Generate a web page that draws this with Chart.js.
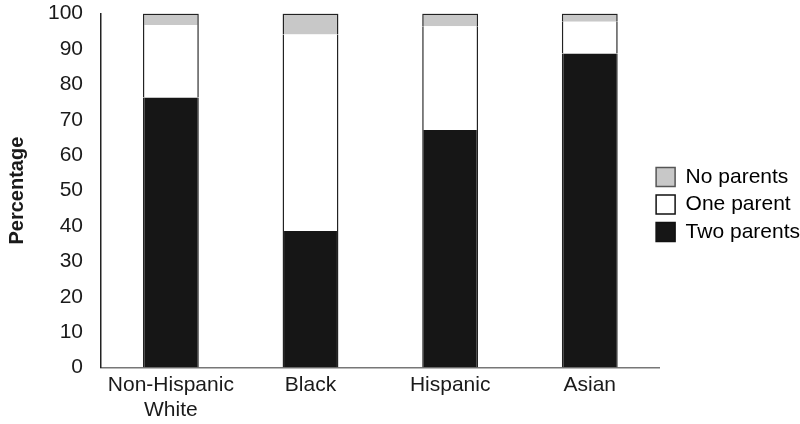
<!DOCTYPE html>
<html>
<head>
<meta charset="utf-8">
<script src="https://cdn.jsdelivr.net/npm/chart.js@4"></script>
<style>
  html, body { margin: 0; padding: 0; background: #fff; }
  #wrap { width: 800px; height: 424px; }
</style>
</head>
<body>
<div id="wrap"><canvas id="chart"></canvas></div>
<script>
const CATEGORIES = [["Non-Hispanic", "White"], "Black", "Hispanic", "Asian"];
const TWO_PARENTS = [76.3, 38.6, 67.1, 88.7];
const ONE_PARENT = [20.5, 55.5, 29.3, 9.0];
const NO_PARENTS = [3.2, 5.9, 3.6, 2.3];

const EDGE = "#222";
const FONT = "'Liberation Sans', Arial, sans-serif";

Chart.defaults.font.family = FONT;
Chart.defaults.color = "#1a1a1a";

// nudge the legend a little left/up so it sits as in the original figure
const legendNudge = {
  id: "legendNudge",
  afterLayout(chart) {
    const lg = chart.legend;
    if (!lg) return;
    lg.left -= 10;
    lg.right -= 10;
    lg.top -= 7;
    lg.bottom -= 7;
  },
};

new Chart(document.getElementById("chart"), {
  type: "bar",
  data: {
    labels: CATEGORIES,
    datasets: [
      {
        label: "Two parents",
        data: TWO_PARENTS,
        backgroundColor: "#161616",
        borderColor: EDGE,
        borderWidth: { left: 1.5, right: 1.5, bottom: 0, top: 0 },
        borderSkipped: false,
      },
      {
        label: "One parent",
        data: ONE_PARENT,
        backgroundColor: "#ffffff",
        borderColor: EDGE,
        borderWidth: { left: 1.5, right: 1.5, bottom: 0, top: 0 },
        borderSkipped: false,
      },
      {
        label: "No parents",
        data: NO_PARENTS,
        backgroundColor: "#c8c8c8",
        borderColor: EDGE,
        borderWidth: { left: 1.5, right: 1.5, bottom: 0, top: 1.5 },
        borderSkipped: false,
      },
    ],
  },
  plugins: [legendNudge],
  options: {
    responsive: true,
    maintainAspectRatio: false,
    animation: false,
    layout: { padding: { top: 0, right: -20, left: 2, bottom: 1 } },
    datasets: { bar: { categoryPercentage: 1, barPercentage: 0.4 } },
    plugins: {
      tooltip: { enabled: false },
      legend: {
        position: "right",
        reverse: true,
        labels: {
          font: { size: 21 },
          color: "#1a1a1a",
          boxWidth: 19,
          boxHeight: 19,
          padding: 6.5,
          generateLabels(chart) {
            return chart.data.datasets.map((ds, i) => ({
              text: ds.label,
              fillStyle: ds.backgroundColor,
              strokeStyle: i === 2 ? "#555" : "#111",
              lineWidth: 1.5,
              datasetIndex: i,
              hidden: false,
            }));
          },
        },
      },
    },
    scales: {
      x: {
        stacked: true,
        grid: { display: false, tickLength: 5 },
        border: { display: true, color: "#777", width: 1.5 },
        ticks: {
          font: { size: 21 },
          color: "#1a1a1a",
          padding: 0,
          maxRotation: 0,
          minRotation: 0,
          autoSkip: false,
        },
      },
      y: {
        stacked: true,
        min: 0,
        max: 100,
        grid: { display: false, tickLength: 17 },
        border: { display: true, color: "#222", width: 1.5 },
        ticks: { stepSize: 10, font: { size: 21 }, color: "#1a1a1a", padding: 1 },
        title: {
          display: true,
          text: "Percentage",
          font: { size: 20, weight: "bold" },
          color: "#1a1a1a",
          padding: { top: 3, bottom: 18 },
        },
      },
    },
  },
});
</script>
</body>
</html>
